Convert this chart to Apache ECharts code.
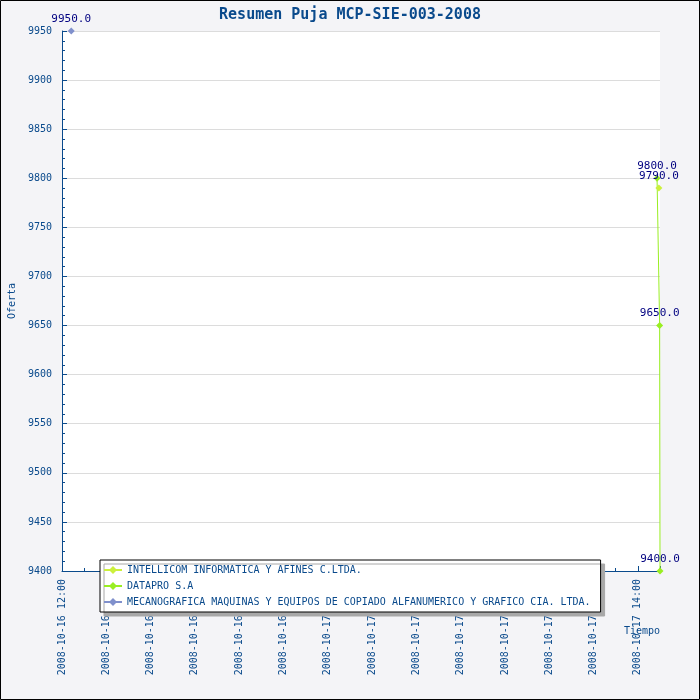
<!DOCTYPE html>
<html>
<head>
<meta charset="utf-8">
<script src="https://cdn.jsdelivr.net/npm/echarts@6/dist/echarts.min.js"></script>
<style>
    body { margin: 0; }
    #chart1 { width: 700px; height: 700px; }
</style>
</head>
<body>
<div id="chart1"></div>
<script>
// datos de la puja
var seriesNames = ['INTELLICOM INFORMATICA Y AFINES C.LTDA.', 'DATAPRO S.A', 'MECANOGRAFICA MAQUINAS Y EQUIPOS DE COPIADO ALFANUMERICO Y GRAFICO CIA. LTDA.'];
var seriesColors = ['#ccf03c', '#99ee22', '#8090cc'];
var intellicomTimes = ['2008-10-17 14:57'];
var intellicomValues = [9790];
var dataproTimes = ['2008-10-17 14:52', '2008-10-17 14:59', '2008-10-17 15:00'];
var dataproValues = [9800, 9650, 9400];
var mecanograficaTimes = ['2008-10-16 12:25'];
var mecanograficaValues = [9950];
var axisStart = '2008-10-16 12:00';
var axisEnd = '2008-10-17 15:00';

function toMs(s) {
    var p = s.split(/[- :]/);
    return Date.UTC(+p[0], +p[1] - 1, +p[2], +p[3], +p[4]);
}
function pad(n) { return (n < 10 ? '0' : '') + n; }
function fmt(ms) {
    var d = new Date(ms);
    return d.getUTCFullYear() + '-' + pad(d.getUTCMonth() + 1) + '-' + pad(d.getUTCDate()) + ' ' + pad(d.getUTCHours()) + ':' + pad(d.getUTCMinutes());
}
function pairs(times, values) {
    return times.map(function (t, i) { return [toMs(t), values[i]]; });
}

var font = 'DejaVu Sans Mono';
var blue = '#0a4a8c';
var myChart = echarts.init(document.getElementById('chart1'));
var sData = [pairs(intellicomTimes, intellicomValues), pairs(dataproTimes, dataproValues), pairs(mecanograficaTimes, mecanograficaValues)];

option = {
    backgroundColor: '#f4f4f7',
    animation: false,
    title: {
        text: 'Resumen Puja MCP-SIE-003-2008',
        left: 'center',
        top: 3,
        textStyle: { fontFamily: font, fontSize: 15, fontWeight: 'bold', color: blue }
    },
    graphic: [{
        type: 'rect',
        shape: { x: 0.5, y: 0.5, width: 699, height: 699 },
        style: { fill: null, stroke: '#000', lineWidth: 1 },
        z: 100
    }, {
        // nombre del eje x
        type: 'text',
        left: 624,
        top: 626,
        style: { text: 'Tiempo', font: '10px "DejaVu Sans Mono"', fill: blue },
        z: 20
    }],
    legend: {
        orient: 'vertical',
        left: 100,
        top: 560,
        padding: [5, 10, 5, 3],
        itemGap: 6,
        itemWidth: 18,
        itemHeight: 10,
        backgroundColor: '#fff',
        borderColor: '#000',
        borderWidth: 1,
        shadowColor: '#a8a8a8',
        shadowBlur: 0,
        shadowOffsetX: 4,
        shadowOffsetY: 4,
        z: 10,
        textStyle: { fontFamily: font, fontSize: 10, color: blue },
        data: seriesNames
    },
    grid: {
        left: 62,
        right: 40,
        top: 31,
        bottom: 129,
        outerBoundsMode: 'none',
        containLabel: false,
        show: true,
        backgroundColor: '#fff',
        borderWidth: 0
    },
    xAxis: {
        type: 'value',
        min: toMs(axisStart),
        max: toMs(axisEnd),
        interval: 2 * 3600 * 1000,
        axisLine: { lineStyle: { color: blue, width: 1 } },
        axisTick: { inside: true, length: 5, lineStyle: { color: blue } },
        minorTick: { show: true, splitNumber: 2, length: 3, lineStyle: { color: blue } },
        splitLine: { show: false },
        axisLabel: {
            rotate: 90,
            margin: 8,
            showMaxLabel: false,
            fontFamily: font,
            fontSize: 10,
            color: blue,
            formatter: fmt
        }
    },
    yAxis: {
        type: 'value',
        min: 9400,
        max: 9950,
        interval: 50,
        name: 'Oferta',
        nameLocation: 'middle',
        nameRotate: 90,
        nameGap: 42,
        nameTextStyle: { fontFamily: font, fontSize: 10, color: blue },
        axisLine: { show: true, lineStyle: { color: blue, width: 1 } },
        axisTick: { inside: true, length: 5, lineStyle: { color: blue } },
        minorTick: { show: true, splitNumber: 5, length: 3, lineStyle: { color: blue } },
        splitLine: { lineStyle: { color: '#dcdcdc' } },
        axisLabel: {
            margin: 10,
            fontFamily: font,
            fontSize: 10,
            color: blue,
            formatter: function (v) { return String(v); }
        }
    },
    series: seriesNames.map(function (name, i) {
        return {
            name: name,
            type: 'line',
            data: sData[i],
            color: seriesColors[i],
            symbol: 'diamond',
            symbolSize: 7,
            lineStyle: { width: 1 },
            label: {
                show: true,
                position: 'top',
                distance: 3,
                fontFamily: font,
                fontSize: 11,
                color: '#000080',
                formatter: function (p) { return p.value[1].toFixed(1); }
            }
        };
    })
};
myChart.setOption(option);
</script>
</body>
</html>
